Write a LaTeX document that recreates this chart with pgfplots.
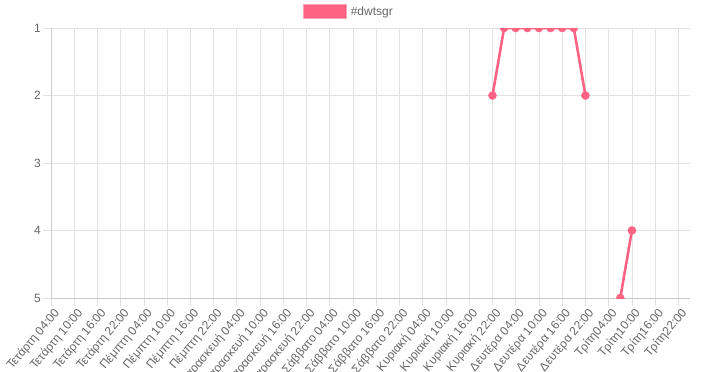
\documentclass[border=0pt]{standalone}
\usepackage{pgfplots}
\pgfplotsset{compat=1.18}
\usepackage{fontspec}
\setmainfont{Liberation Sans}
\definecolor{linec}{RGB}{255,99,132}
\definecolor{txt}{RGB}{102,102,102}
\definecolor{gridc}{RGB}{226,226,226}
\begin{document}
\begin{tikzpicture}[font=\fontsize{12}{14}\selectfont]
\useasboundingbox (-51pt,-74pt) rectangle (656pt,298pt);
\begin{axis}[
  at={(0pt,0pt)}, anchor=south west,
  scale only axis, width=639pt, height=270pt,
  xmin=0, xmax=165, ymin=1, ymax=5, y dir=reverse,
  xtick={0,6,...,162},
  xticklabels={Τετάρτη 04:00,Τετάρτη 10:00,Τετάρτη 16:00,Τετάρτη 22:00,
    Πέμπτη 04:00,Πέμπτη 10:00,Πέμπτη 16:00,Πέμπτη 22:00,
    Παρασκευή 04:00,Παρασκευή 10:00,Παρασκευή 16:00,Παρασκευή 22:00,
    Σάββατο 04:00,Σάββατο 10:00,Σάββατο 16:00,Σάββατο 22:00,
    Κυριακή 04:00,Κυριακή 10:00,Κυριακή 16:00,Κυριακή 22:00,
    Δευτέρα 04:00,Δευτέρα 10:00,Δευτέρα 16:00,Δευτέρα 22:00,
    Τρίτη04:00,Τρίτη10:00,Τρίτη16:00,Τρίτη22:00},
  ytick={1,2,3,4,5},
  grid=major, major grid style={gridc, line width=0.8pt},
  axis lines*=left,
  axis line style={gridc!90!black, line width=0.8pt},
  tick align=outside, major tick length=8pt,
  tick style={gridc, line width=0.8pt},
  ticklabel style={txt, font=\fontsize{12}{14}\selectfont},
  xticklabel style={rotate=50, anchor=east, inner sep=1pt, yshift=-8pt, xshift=1.5pt},
  yticklabel style={anchor=east, inner sep=1pt, xshift=-1pt},
  /pgf/number format/assume math mode=true,
  clip marker paths=true,
  unbounded coords=jump,
  legend style={at={(axis description cs:0.394,1.061)}, anchor=west, draw=none, fill=none,
    inner sep=0pt, text=txt, font=\fontsize{12}{14}\selectfont},
  legend cell align=left,
  legend image code/.code={\draw[fill=linec, draw=linec!60, line width=0.8pt] (0pt,-7pt) rectangle (43pt,7pt);},
]
\addplot[color=linec, line width=2.6pt, mark=*, mark size=4pt,
  mark options={fill=linec, draw=linec, line width=0.5pt}]
  coordinates {(114,2) (117,1) (120,1) (123,1) (126,1) (129,1) (132,1) (135,1) (138,2)
               (141,nan) (147,5) (150,4)};
\addlegendentry{\hspace{2pt}\#dwtsgr}
\end{axis}
\end{tikzpicture}
\end{document}
